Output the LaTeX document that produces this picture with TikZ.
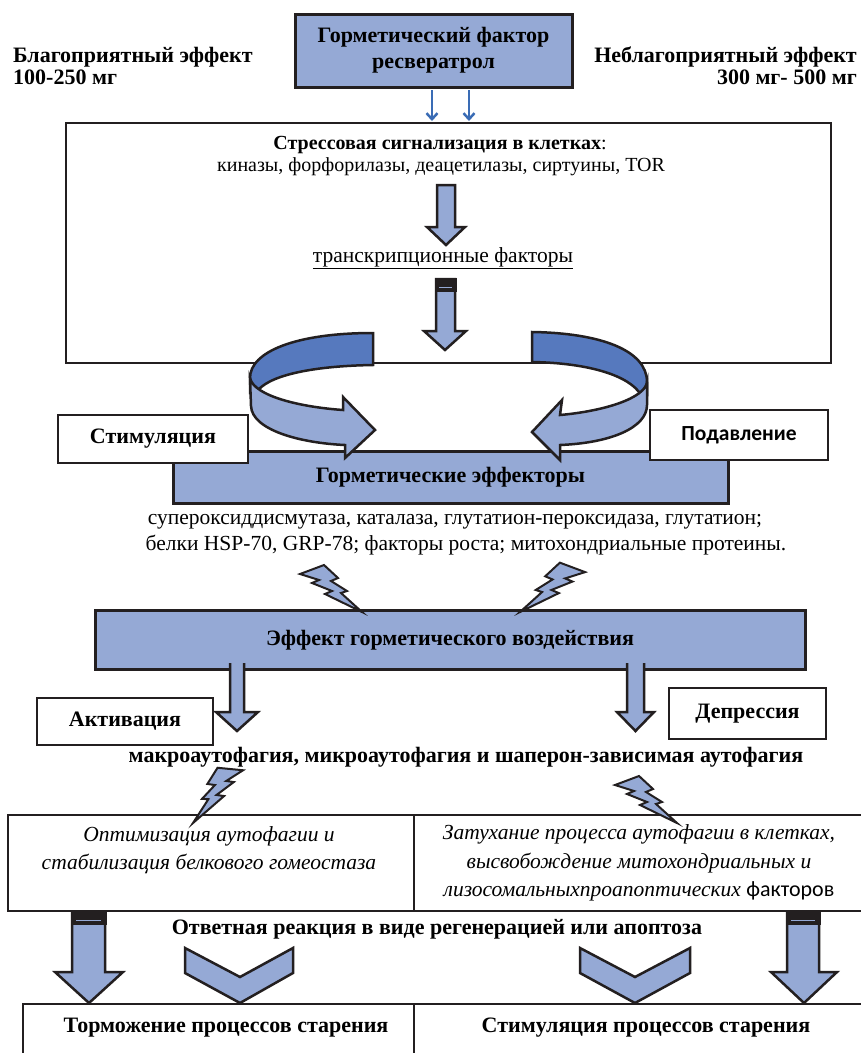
\documentclass[tikz,border=0pt]{standalone}
\usepackage{fontspec}
\setmainfont{Liberation Serif}
\newfontfamily\calib{Carlito}
\usetikzlibrary{arrows.meta}
\definecolor{lb}{RGB}{149,169,213}
\definecolor{db}{RGB}{86,121,190}
\definecolor{ab}{RGB}{58,108,181}
\definecolor{ln}{RGB}{35,31,32}
\begin{document}
\begin{tikzpicture}[x=1pt,y=-1pt,
  thickbox/.style={draw=ln, fill=lb, line width=3pt},
  whitebox/.style={draw=ln, fill=white, line width=1.5pt},
  blockarr/.style={draw=ln, fill=lb, line width=2.5pt, line join=miter},
  ribbondark/.style={draw=ln, fill=db, line width=2.5pt, line join=miter},
  ribbonlight/.style={draw=ln, fill=lb, line width=2.5pt, line join=miter},
  boltst/.style={draw=ln, fill=lb, line width=2pt, line join=miter},
  smallarr/.style={draw=ab, line width=2.5pt, -{Straight Barb[length=6pt,width=11pt,line width=2.5pt]}},
  txtb/.style={font=\fontsize{22}{22}\selectfont\bfseries, inner sep=0pt, align=center},
  txtr/.style={font=\fontsize{21.5}{23}\selectfont, inner sep=0pt, align=center},
  txts/.style={font=\fontsize{20}{22}\selectfont, inner sep=0pt, align=center},
  txti/.style={font=\fontsize{21.5}{28.5}\selectfont\itshape, inner sep=0pt, align=center},
  bolt/.pic={\draw[boltst] (0,0) -- (-21,-19) -- (-15,-21) -- (-31,-31) -- (-24,-34) -- (-38,-47) -- (-62,-38) -- (-43,-32) -- (-50,-29) -- (-30,-21) -- (-37,-18) -- cycle;}
]
\useasboundingbox (0,0) rectangle (861,1053);
\clip (0,0) rectangle (861,1053);

% top
\node[thickbox, minimum width=277pt, minimum height=73pt, txtb, font=\fontsize{22}{26}\selectfont\bfseries] (factor) at (433.5,50.5) {Горметический фактор\\ресвератрол};
\node[txtb, align=left, anchor=north west] (good) at (13,47) {Благоприятный эффект\\100-250 мг};
\node[txtb, align=right, anchor=north east] (bad) at (857,47) {Неблагоприятный эффект\\300 мг- 500 мг};

% stress box
\node[draw=ln, line width=1.5pt, minimum width=765pt, minimum height=240pt] (stress) at (448.5,243) {};
\coordinate (sa1) at (432,90); \coordinate (sa1e) at (432,121);
\coordinate (sa2) at (469,90); \coordinate (sa2e) at (469,121);
\draw[smallarr] (sa1) -- (sa1e);
\draw[smallarr] (sa2) -- (sa2e);

\node[txts] (signal) at (440,145) {{\bfseries Стрессовая сигнализация в клетках}:};
\node[txts] (kinases) at (441,167) {киназы, форфорилазы, деацетилазы, сиртуины, TOR};
\node[txtr] (tf) at (443,258) {\underline{транскрипционные факторы}};

% block arrow 1
\draw[blockarr] (437,185) -- (437,227) -- (427,227) -- (446,245) -- (465,227) -- (455,227) -- (455,185) -- cycle;
% block arrow 2 with cap
\draw[blockarr] (436,279) -- (436,331) -- (424,331) -- (445,350) -- (466,331) -- (455,331) -- (455,279) -- cycle;
\fill[ln] (434.5,278) rectangle (456.5,292);
\draw[lb, line width=1pt] (439,287) -- (452,287);

% effectors box and side boxes
\node[thickbox, minimum width=555pt, minimum height=52pt, txtb] (effectors) at (450.5,477) {Горметические эффекторы};
\node[whitebox, minimum width=190pt, minimum height=48pt, txtb] (stim) at (153,439) {Стимуляция};
\node[whitebox, minimum width=178pt, minimum height=50pt, font=\fontsize{21.5}{22}\selectfont\calib\bfseries, inner sep=0pt] (supp) at (739,435) {Подавление};

% left ribbon
\draw[ribbondark] (373,333) -- (373,365) .. controls (310,366) and (266,376) .. (256,393) -- (250,393) -- (250,378) .. controls (250,352) and (295,333) .. (373,333) -- cycle;
\draw[ribbonlight] (250,378) .. controls (254,396) and (300,407) .. (343,410) -- (343,397) -- (375,430) -- (345,458) -- (345,445) .. controls (300,443) and (252,430) .. (251,406) -- cycle;
% right ribbon
\draw[ribbondark] (532,332) -- (532,362) .. controls (590,363) and (630,376) .. (641,395) -- (647,395) -- (647,382) .. controls (647,350) and (600,333) .. (532,332) -- cycle;
\draw[ribbonlight] (647,382) .. controls (645,398) and (605,411) .. (560,415) -- (562,400) -- (532,432) -- (560,460) -- (560,445) .. controls (610,443) and (647,428) .. (647,405) -- cycle;

\node[txtr] (enz1) at (455,522) {супероксиддисмутаза, каталаза, глутатион-пероксидаза, глутатион;};
\node[txtr] (enz2) at (466,545) {белки HSP-70, GRP-78; факторы роста; митохондриальные протеины.};

% effect box
\node[thickbox, minimum width=710pt, minimum height=59pt, txtb] (effect) at (450,640) {Эффект горметического воздействия};
\path (362,612) pic {bolt};
\path (520,612) pic[xscale=-1, scale=1.05] {bolt};

% arrows from effect box
\fill[lb] (230,663) rectangle (244,713);
\draw[blockarr, fill=lb] (230,663) -- (230,712) -- (216,712) -- (237,731) -- (258,712) -- (244,712) -- (244,663);
\fill[lb] (627,663) rectangle (644,713);
\draw[blockarr, fill=lb] (627,663) -- (627,712) -- (617,712) -- (635.5,731) -- (654,712) -- (644,712) -- (644,663);

\node[whitebox, minimum width=176pt, minimum height=47pt, txtb] (act) at (125,721.5) {Активация};
\node[whitebox, minimum width=157pt, minimum height=51pt, txtb] (dep) at (747.5,713.5) {Депрессия};
\node[txtb] (auto) at (466,757) {макроаутофагия, микроаутофагия и шаперон-зависимая аутофагия};

% middle boxes
\draw[ln, line width=1.5pt] (8,815) rectangle (414,911);
\draw[ln, line width=1.5pt] (414,815) rectangle (880,911);
\node[txti] (opt) at (209,850) {Оптимизация аутофагии и\\стабилизация белкового гомеостаза};
\node[txti] (fade) at (639,863) {Затухание процесса аутофагии в клетках,\\высвобождение митохондриальных и\\лизосомальныхпроапоптических {\calib\upshape\fontsize{22}{28.5}\selectfont факторов}};
\path (193,823) pic[rotate=15, xscale=-1] {bolt};
\path (677,823) pic {bolt};

% response
\node[txtb] (resp) at (437,929) {Ответная реакция в виде регенерацией или апоптоза};
\draw[blockarr] (72,912) -- (72,972) -- (55,972) -- (89,1003) -- (123,972) -- (105,972) -- (105,912) -- cycle;
\fill[ln] (70.5,911) rectangle (106.5,925);
\draw[lb, line width=1pt] (76,920.5) -- (101,920.5);
\draw[blockarr] (787,912) -- (787,972) -- (771,972) -- (804,1003) -- (837,972) -- (819,972) -- (819,912) -- cycle;
\fill[ln] (785.5,911) rectangle (820.5,925);
\draw[lb, line width=1pt] (791,920.5) -- (815,920.5);
\draw[blockarr] (185,948) -- (240,977) -- (293,948) -- (293,973) -- (240,1003) -- (185,973) -- cycle;
\draw[blockarr] (580,948) -- (635,977) -- (690,948) -- (690,973) -- (635,1003) -- (580,973) -- cycle;

% bottom boxes
\draw[ln, line width=1.5pt] (23,1004) rectangle (414,1070);
\draw[ln, line width=1.5pt] (414,1004) rectangle (880,1070);
\node[txtb] (inhib) at (226,1028) {Торможение процессов старения};
\node[txtb] (stimage) at (646,1028) {Стимуляция процессов старения};
\end{tikzpicture}
\end{document}
